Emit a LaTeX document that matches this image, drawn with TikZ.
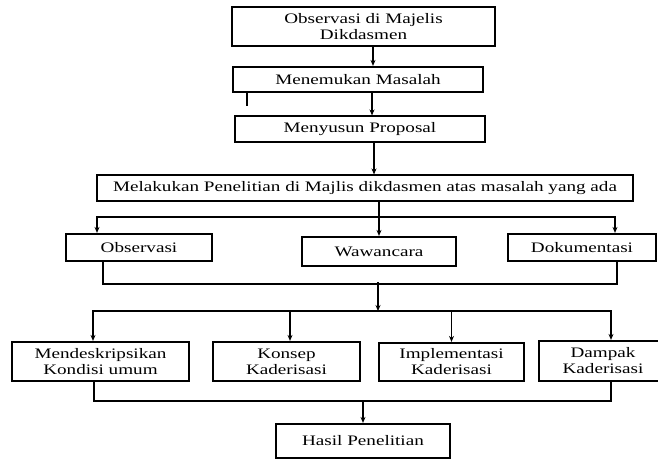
\documentclass[tikz,border=0pt]{standalone}
\usepackage{fontspec}
\setmainfont[FakeStretch=1.32]{Liberation Serif}
\usetikzlibrary{arrows.meta,calc}
\begin{document}
\begin{tikzpicture}[x=1pt,y=-1pt,
  box/.style={draw, rectangle, inner sep=0pt, align=center, line width=1.1pt,
    font=\fontsize{14.5}{16}\selectfont},
  tbox/.style={box, line width=2.2pt},
  link/.style={line width=1.1pt},
  arr/.style={link, -{Stealth[length=6pt,width=5pt]}},
  darr/.style={link, {Stealth[length=6pt,width=5pt]}-{Stealth[length=6pt,width=5pt]}}]
\useasboundingbox (0,0) rectangle (658,461);
\clip (0,0) rectangle (658,461);
\fill[white] (0,0) rectangle (658,461);
% nodes
\node[box, minimum width=263, minimum height=39] (b1) at (363.5,26.5) {Observasi di Majelis\\Dikdasmen};
\node[tbox, minimum width=250, minimum height=25] (b2) at (358,79.5) {Menemukan Masalah};
\node[box, minimum width=250, minimum height=26] (b3) at (360,129) {Menyusun Proposal};
\node[box, minimum width=536, minimum height=26] (b4) at (365,188) {Melakukan Penelitian di Majlis dikdasmen atas masalah yang ada};
\node[tbox, minimum width=146, minimum height=27] (obs) at (139,247.5) {Observasi};
\node[tbox, minimum width=154, minimum height=29] (waw) at (379,251.5) {Wawancara};
\node[tbox, minimum width=148, minimum height=27] (dok) at (582,247.5) {Dokumentasi};
\node[tbox, minimum width=177, minimum height=39] (mend) at (100.5,361.5) {Mendeskripsikan\\Kondisi umum};
\node[tbox, minimum width=147, minimum height=39] (kon) at (286.5,361.5) {Konsep\\Kaderisasi};
\node[tbox, minimum width=145, minimum height=38] (imp) at (451.5,362) {Implementasi\\Kaderisasi};
\node[tbox, minimum width=128, minimum height=40] (dam) at (603,361) {Dampak\\Kaderisasi};
\node[tbox, minimum width=174, minimum height=34] (has) at (363,441) {Hasil Penelitian};
% branch coordinates
\coordinate (brAL) at (97,217);
\coordinate (brAR) at (615,217);
\coordinate (jA) at (378,284);
\coordinate (brBL) at (93,311);
\coordinate (brBR) at (611,311);
\coordinate (jB) at (363,401);
% connectors
\draw[arr] ([xshift=9.5]b1.south) -- ([xshift=9.5]b1.south |- b2.north);
\draw[arr] ([xshift=14]b2.south) -- ([xshift=14]b2.south |- b3.north);
\draw[link] ([xshift=-111]b2.south) -- ++(0,13);
\draw[arr] ([xshift=14]b3.south) -- ([xshift=14]b3.south |- b4.north);
\draw[arr] (waw.north |- b4.south) -- (waw.north);
\draw[darr] (brAL |- obs.north) -- (brAL) -- (brAR) -- (brAR |- dok.north);
\draw[link] ([xshift=-36]obs.south) |- (jA) -| ([xshift=35]dok.south);
\draw[arr] ([yshift=2]jA) -- (jA |- brBL);
\draw[darr] (brBL |- mend.north) -- (brBL) -- (brBR) -- (brBR |- dam.north);
\draw[arr] ([xshift=3.5]kon.north |- brBL) -- ([xshift=3.5]kon.north);
\draw[arr] (imp.north |- brBL) -- (imp.north);
\draw[link] ([xshift=-6.5]mend.south) |- (jB) -| ([xshift=8]dam.south);
\draw[arr] (jB) -- (has.north);
\end{tikzpicture}
\end{document}
